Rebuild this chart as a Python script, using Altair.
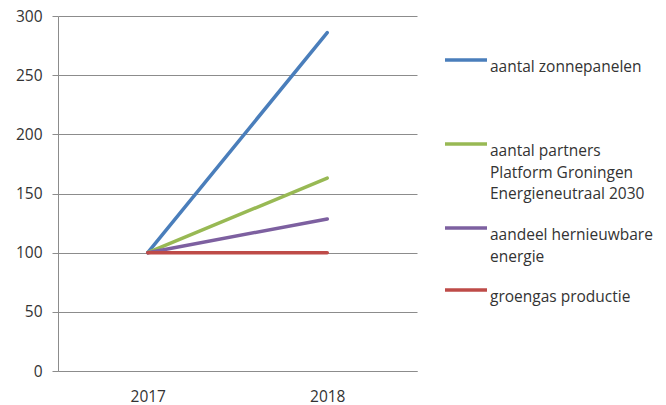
import altair as alt
import pandas as pd

years = ["2017", "2018"]
series = [
    "aantal zonnepanelen",
    "aantal partners Platform Groningen Energieneutraal 2030",
    "aandeel hernieuwbare energie",
    "groengas productie",
]
zonnepanelen = [100, 286]
partners = [100, 163]
hernieuwbaar = [100, 128.5]
groengas = [100, 100]
colors = ["#4A7EBB", "#98B954", "#7D60A0", "#BE4B48"]
y_ticks = [0, 50, 100, 150, 200, 250, 300]

label_lines = {
    series[0]: ["aantal zonnepanelen", "", ""],
    series[1]: ["aantal partners", "Platform Groningen", "Energieneutraal 2030"],
    series[2]: ["aandeel hernieuwbare", "energie"],
    series[3]: ["groengas productie"],
}

rows = []
for name, vals in zip(series, [zonnepanelen, partners, hernieuwbaar, groengas]):
    for yr, v in zip(years, vals):
        rows.append({"jaar": yr, "reeks": name, "waarde": v, "volg": series.index(name)})
df = pd.DataFrame(rows)


def arr(lines):
    return "[" + ", ".join("'" + s + "'" for s in lines) + "]"


expr = ""
for k in series[:-1]:
    expr += f"datum.label == '{k}' ? {arr(label_lines[k])} : "
expr += arr(label_lines[series[-1]])

FONT = "Open Sans"
FS = 15.5

chart = (
    alt.Chart(df)
    .mark_line(strokeWidth=3.5, strokeCap="round")
    .encode(
        x=alt.X(
            "jaar:O",
            title=None,
            scale=alt.Scale(padding=0.5),
            axis=alt.Axis(
                labelAngle=0,
                ticks=False,
                labelPadding=18,
                domainColor="#8c8c8c",
                grid=False,
            ),
        ),
        y=alt.Y(
            "waarde:Q",
            title=None,
            scale=alt.Scale(domain=[0, 300], nice=False),
            axis=alt.Axis(
                values=y_ticks,
                tickSize=6,
                tickColor="#8c8c8c",
                domainColor="#8c8c8c",
                gridColor="#8c8c8c",
                labelPadding=10,
            ),
        ),
        color=alt.Color(
            "reeks:N",
            scale=alt.Scale(domain=series, range=colors),
            legend=alt.Legend(
                title=None,
                orient="none",
                legendX=385,
                legendY=21,
                symbolType="stroke",
                symbolSize=1764,
                symbolStrokeWidth=3.5,
                labelOffset=1,
                labelBaseline="top",
                labelExpr=expr,
                labelLimit=300,
                rowPadding=2,
                padding=0,
            ),
        ),
        order="volg:Q",
    )
    .properties(
        width=359,
        height=355,
        autosize=alt.AutoSizeParams(type="none"),
        padding={"left": 50, "top": 8, "right": 240, "bottom": 40},
    )
    .configure(style={"guide-label": {"lineHeight": 21.5}})
    .configure_view(stroke=None)
    .configure_axis(
        labelFont=FONT,
        labelFontSize=FS,
        labelColor="#333333",
        gridWidth=1,
        domainWidth=1,
    )
    .configure_legend(labelFont=FONT, labelFontSize=FS, labelColor="#333333")
)

chart.save("out.html", embed_options={"renderer": "svg", "actions": False})
